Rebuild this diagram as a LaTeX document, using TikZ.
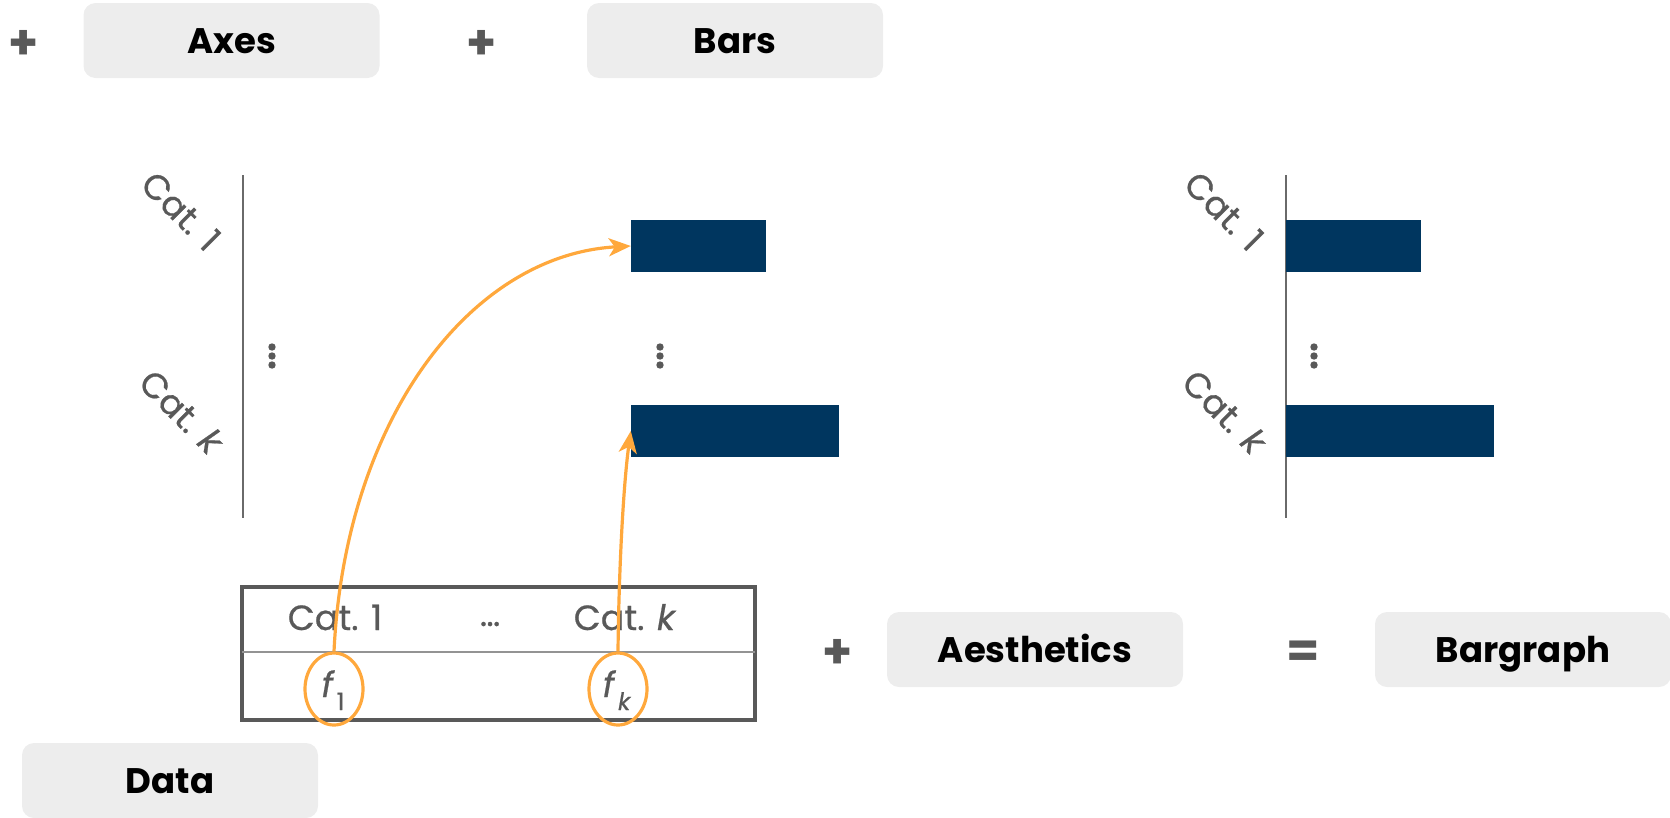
\documentclass[tikz,border=0pt]{standalone}
\usepackage{fontspec}
\setmainfont{Poppins}
\newfontfamily\graytxt{Poppins}[FakeBold=0.6]
\usetikzlibrary{arrows.meta,shapes.geometric}
\definecolor{txtgray}{HTML}{595959}
\definecolor{axisgray}{HTML}{6A6A6A}
\definecolor{boxfill}{HTML}{EDEDED}
\definecolor{barblue}{HTML}{00365F}
\definecolor{accent}{HTML}{FFA83C}
\tikzset{
  label box/.style={fill=boxfill, rounded corners=12pt, minimum width=296pt,
    minimum height=75pt, inner sep=0pt, text height=25pt, text depth=0pt,
    font=\fontsize{35.5}{38}\selectfont\bfseries, text=black},
  op sign/.style={text=txtgray, font=\fontsize{48}{48}\selectfont\bfseries, inner sep=0pt},
  cat label/.style={text=txtgray, font=\graytxt\fontsize{35}{38}\selectfont, rotate=-45, inner sep=0pt},
  cell text/.style={text=txtgray, font=\graytxt\fontsize{35}{38}\selectfont, inner sep=0pt},
  axis line/.style={draw=axisgray, line width=2.5pt},
  bar/.style={fill=barblue},
  vdot/.style={fill=txtgray},
  mark ring/.style={draw=accent, line width=3.2pt},
  link/.style={draw=accent, line width=3.2pt, -{Stealth[length=22pt, width=18pt, inset=6pt]}},
}
\begin{document}
\begin{tikzpicture}[x=1pt, y=-1pt]
\useasboundingbox (0,0) rectangle (1670,817);
\clip (0,0) rectangle (1670,817);

% top row: components
\node[op sign] (plusA) at (24,45) {+};
\node[label box] (axes) at (231.5,40.5) {Axes};
\node[op sign] (plusB) at (482,45) {+};
\node[label box] (bars) at (735,40.5) {Bars};

% axes panel
\draw[axis line] (243,175) coordinate (axTop) -- (243,518) coordinate (axBot);
\node[cat label] (lc1) at (181,211) {Cat. 1};
\node[cat label] (lck) at (182,412) {Cat. \textit{k}};
\foreach \yy in {347,356,365} \fill[vdot] (272,\yy) circle (3.7pt);

% bars panel
\path[bar] (631,220) rectangle (766,272);
\node[inner sep=0pt, minimum width=135pt, minimum height=52pt] (bar1) at (698.5,246) {};
\path[bar] (631,405) rectangle (839,457);
\node[inner sep=0pt, minimum width=208pt, minimum height=52pt] (bark) at (735,431) {};
\foreach \yy in {347,356,365} \fill[vdot] (660,\yy) circle (3.7pt);

% result panel
\draw[axis line] (1286,175) -- (1286,518);
\path[bar] (1286,220) rectangle (1421,272);
\path[bar] (1286,405) rectangle (1494,457);
\node[cat label] (rc1) at (1224,211) {Cat. 1};
\node[cat label] (rck) at (1225,412) {Cat. \textit{k}};
\foreach \yy in {347,356,365} \fill[vdot] (1314,\yy) circle (3.7pt);

% data table
\draw[draw=txtgray, line width=4.5pt] (242,587) rectangle (755,720);
\draw[draw=gray!85, line width=2pt] (242,652) -- (755,652);
\node[cell text, anchor=base] (h1) at (335,630) {Cat. 1};
\node[cell text, anchor=base] (hd) at (490,626) {…};
\node[cell text, anchor=base] (hk) at (625,630) {Cat. \textit{k}};
\node[cell text, anchor=base] (v1) at (333,697) {\textit{f}\kern2pt\raisebox{-13pt}{\fontsize{24}{24}\selectfont 1}};
\node[cell text, anchor=base] (vk) at (617,697) {\textit{f}\kern2pt\raisebox{-13pt}{\fontsize{24}{24}\selectfont\textit{k}}};
\node[mark ring, ellipse, minimum width=58pt, minimum height=72pt, inner sep=0pt, draw] (e1) at (334,689) {};
\node[mark ring, ellipse, minimum width=58pt, minimum height=72pt, inner sep=0pt, draw] (ek) at (618,689) {};

% mapping arrows
\draw[link] (e1.north) .. controls (345,420) and (470,255) .. (bar1.west);
\draw[link] (ek.north) .. controls (619,560) and (624,480) .. (bark.west);

% bottom row
\node[op sign] (plusC) at (838,654) {+};
\node[label box] (aes) at (1035,649.5) {Aesthetics};
\node[op sign] (eq) at (1303,654) {=};
\node[label box] (bg) at (1523,649.5) {Bargraph};
\node[label box] (data) at (170,780.5) {Data};
\end{tikzpicture}
\end{document}
